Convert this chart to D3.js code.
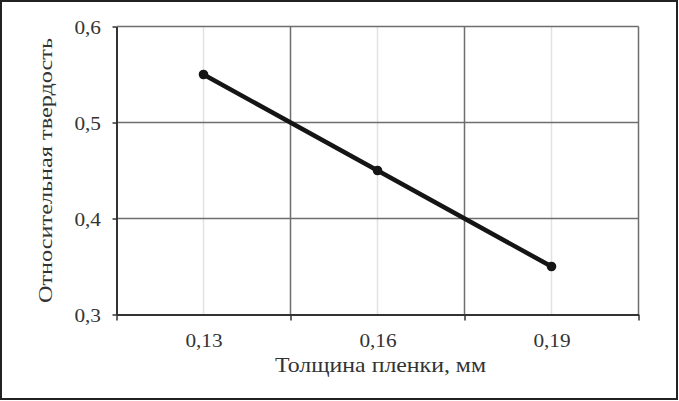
<!DOCTYPE html>
<html>
<head>
<meta charset="utf-8">
<script src="https://cdn.jsdelivr.net/npm/d3@7"></script>
<style>
  body { margin: 0; background: #fff; }
  svg { display: block; }
  text { font-family: "Liberation Serif", "Times New Roman", serif; fill: #333; }
</style>
</head>
<body>
<div id="chart"></div>
<script>
var svgWidth = 679;
var svgHeight = 401;

// data
var categories = ["0,13", "0,16", "0,19"];
var hardness = [0.55, 0.45, 0.35];
var yTicks = [0.3, 0.4, 0.5, 0.6];

var plot = { left: 116.5, right: 638.5, top: 26.5, bottom: 314.5 };
var serif = "'Liberation Serif', 'Times New Roman', serif";

var svg = d3.select("#chart")
    .append("svg")
    .attr("width", svgWidth)
    .attr("height", svgHeight);

// outer frame
svg.append("rect")
    .attr("x", 1)
    .attr("y", 1)
    .attr("width", svgWidth - 3)
    .attr("height", svgHeight - 3)
    .attr("fill", "none")
    .attr("stroke", "#222")
    .attr("stroke-width", 2);

// category index scale, bands of width 1 around each index
var xScale = d3.scaleLinear()
    .domain([-0.5, categories.length - 0.5])
    .range([plot.left, plot.right]);

var yScale = d3.scaleLinear()
    .domain([0.3, 0.6])
    .range([plot.bottom, plot.top]);

var fmt = d3.formatLocale({ decimal: ",", thousands: " ", grouping: [3], currency: ["", ""] }).format(".1f");

var centers = d3.range(categories.length);
var bounds = d3.range(categories.length + 1).map(i => i - 0.5);

// light minor grid at category centers
svg.append("g").selectAll("line")
    .data(centers)
    .enter()
    .append("line")
    .attr("x1", d => xScale(d))
    .attr("x2", d => xScale(d))
    .attr("y1", plot.top)
    .attr("y2", plot.bottom)
    .attr("stroke", "#e2e2e2")
    .attr("stroke-width", 1.5);

// major grid at category boundaries
svg.append("g").selectAll("line")
    .data(bounds.slice(1))
    .enter()
    .append("line")
    .attr("x1", d => xScale(d))
    .attr("x2", d => xScale(d))
    .attr("y1", plot.top)
    .attr("y2", plot.bottom)
    .attr("stroke", "#6e6e6e")
    .attr("stroke-width", 1.5);

svg.append("g").selectAll("line")
    .data(yTicks.slice(1))
    .enter()
    .append("line")
    .attr("x1", plot.left)
    .attr("x2", plot.right)
    .attr("y1", d => yScale(d))
    .attr("y2", d => yScale(d))
    .attr("stroke", "#6e6e6e")
    .attr("stroke-width", 1.5);

// x axis: ticks at boundaries and centers
var xAxisBounds = svg.append("g")
    .attr("transform", `translate(0, ${plot.bottom})`)
    .call(d3.axisBottom(xScale).tickValues(bounds).tickFormat("").tickSize(6).tickSizeOuter(0));

var xAxis = svg.append("g")
    .attr("transform", `translate(0, ${plot.bottom})`)
    .call(d3.axisBottom(xScale).tickValues(centers).tickFormat(i => categories[i]).tickSize(6).tickSizeOuter(0));

xAxis.selectAll("text")
    .attr("y", 32)
    .attr("dy", null);

var yAxis = svg.append("g")
    .attr("transform", `translate(${plot.left}, 0)`)
    .call(d3.axisLeft(yScale).tickValues(yTicks).tickFormat(fmt).tickSize(4).tickSizeOuter(0));

yAxis.selectAll("text")
    .attr("x", -15.5)
    .attr("dy", "0.36em");

svg.selectAll(".domain").attr("stroke", "#333").attr("stroke-width", 2);
svg.selectAll(".tick line").attr("stroke", "#333").attr("stroke-width", 1.5);
xAxis.selectAll(".tick line").attr("stroke", "none");
xAxis.select(".domain").remove();

// the printed figure is stretched sideways a little
svg.selectAll(".tick text")
    .attr("font-family", serif)
    .attr("font-size", 18.5)
    .style("font-family", serif)
    .style("font-size", "18.5px")
    .attr("fill", "#333")
    .each(function () {
        var w = this.getComputedTextLength();
        d3.select(this)
            .attr("textLength", w * 1.15)
            .attr("lengthAdjust", "spacingAndGlyphs");
    });

// the line
var line = d3.line()
    .x((d, i) => xScale(i))
    .y(d => yScale(d));

svg.append("path")
    .datum(hardness)
    .attr("d", line)
    .attr("fill", "none")
    .attr("stroke", "#151515")
    .attr("stroke-width", 4.5);

svg.append("g").selectAll("circle")
    .data(hardness)
    .enter()
    .append("circle")
    .attr("cx", (d, i) => xScale(i))
    .attr("cy", d => yScale(d))
    .attr("r", 4.8)
    .attr("fill", "#151515");

// axis titles
svg.append("text")
    .attr("x", 380.5)
    .attr("y", 372)
    .attr("text-anchor", "middle")
    .attr("textLength", 211)
    .attr("lengthAdjust", "spacingAndGlyphs")
    .style("font-family", serif)
    .style("font-size", "21px")
    .text("Толщина пленки, мм");

svg.append("text")
    .attr("transform", `translate(52, ${(plot.top + plot.bottom) / 2}) rotate(-90)`)
    .attr("text-anchor", "middle")
    .attr("textLength", 265)
    .attr("lengthAdjust", "spacingAndGlyphs")
    .style("font-family", serif)
    .style("font-size", "19.5px")
    .text("Относительная твердость");
</script>
</body>
</html>
